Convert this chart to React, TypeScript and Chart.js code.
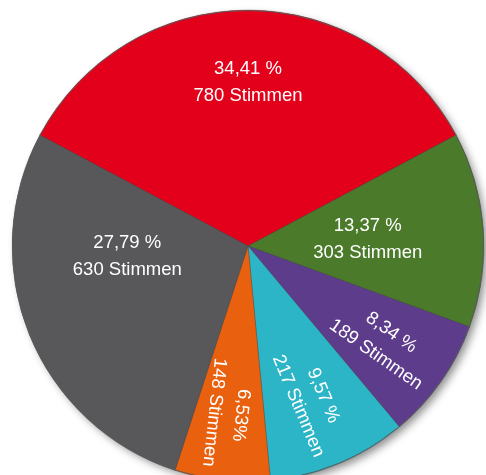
import React, { useEffect, useRef } from "react";
import { Chart, registerables } from "chart.js";

Chart.register(...registerables);

const categories = ["Rot", "Grün", "Lila", "Türkis", "Orange", "Grau"];
const votes = [780, 303, 189, 217, 148, 630];
const percentLabels = ["34,41 %", "13,37 %", "8,34 %", "9,57 %", "6,53%", "27,79 %"];
const voteLabels = ["780 Stimmen", "303 Stimmen", "189 Stimmen", "217 Stimmen", "148 Stimmen", "630 Stimmen"];
const colors = ["#e2001a", "#4a7a2a", "#5e3c8c", "#2bb5c7", "#e9600f", "#58585a"];

// label placement: distance from centre, optional angle override (deg), rotate flag
const labelPlacement = [
  { dist: 166, angle: null as number | null, rotate: false },
  { dist: 120, angle: null as number | null, rotate: false },
  { dist: 167, angle: null as number | null, rotate: true },
  { dist: 167, angle: null as number | null, rotate: true },
  { dist: 169, angle: null as number | null, rotate: true },
  { dist: 121, angle: 176 as number | null, rotate: false },
];

const pieDecor = {
  id: "pieDecor",
  beforeDatasetsDraw(chart: any) {
    const meta = chart.getDatasetMeta(0);
    const arc = meta.data[0];
    if (!arc) return;
    const { x, y, outerRadius } = arc.getProps(["x", "y", "outerRadius"], true);
    const ctx = chart.ctx;
    ctx.save();
    ctx.shadowColor = "rgba(0,0,0,0.45)";
    ctx.shadowBlur = 8;
    ctx.shadowOffsetX = 4;
    ctx.shadowOffsetY = 4;
    ctx.fillStyle = "#777";
    ctx.beginPath();
    ctx.arc(x, y, outerRadius - 1, 0, Math.PI * 2);
    ctx.fill();
    ctx.restore();
  },
  afterDatasetsDraw(chart: any) {
    const meta = chart.getDatasetMeta(0);
    const ctx = chart.ctx;
    const first = meta.data[0];
    if (!first) return;
    const { x: cx, y: cy, outerRadius } = first.getProps(["x", "y", "outerRadius"], true);
    ctx.save();
    ctx.strokeStyle = "rgba(90,90,90,0.9)";
    ctx.lineWidth = 1;
    ctx.beginPath();
    ctx.arc(cx, cy, outerRadius - 0.5, 0, Math.PI * 2);
    ctx.stroke();

    ctx.fillStyle = "#ffffff";
    ctx.font = "18.5px 'Liberation Sans', Arial, sans-serif";
    ctx.textAlign = "center";
    ctx.textBaseline = "middle";
    const lineGap = 27;
    meta.data.forEach((el: any, i: number) => {
      const { startAngle, endAngle } = el.getProps(["startAngle", "endAngle"], true);
      const p = labelPlacement[i];
      const mid = (startAngle + endAngle) / 2;
      const ang = p.angle !== null ? (p.angle * Math.PI) / 180 : mid;
      const bx = cx + Math.cos(ang) * p.dist;
      const by = cy + Math.sin(ang) * p.dist;
      ctx.save();
      ctx.translate(bx, by);
      if (p.rotate) ctx.rotate(mid);
      ctx.fillText(percentLabels[i], 0, -lineGap / 2 + 2);
      ctx.fillText(voteLabels[i], 0, lineGap / 2 + 2);
      ctx.restore();
    });
    ctx.restore();
  },
};

export default function App() {
  const ref = useRef<HTMLCanvasElement | null>(null);
  useEffect(() => {
    if (!ref.current) return;
    const chart = new Chart(ref.current, {
      type: "pie",
      data: {
        labels: categories,
        datasets: [
          {
            data: votes,
            backgroundColor: colors,
            borderColor: "rgba(60,60,60,0.5)",
            borderWidth: 0.6,
          },
        ],
      },
      options: {
        responsive: false,
        animation: false,
        rotation: -61.93,
        radius: 236,
        layout: { padding: { left: 12, right: 2, top: 10, bottom: 10 } },
        plugins: {
          legend: { display: false },
          tooltip: { enabled: false },
        },
      },
      plugins: [pieDecor],
    });
    return () => chart.destroy();
  }, []);
  return (
    <div
      style={{
        position: "fixed",
        left: 0,
        top: 0,
        width: 486,
        height: 475,
        overflow: "hidden",
        background: "#ffffff",
      }}
    >
      <canvas ref={ref} width={486} height={492} style={{ width: 486, height: 492, display: "block" }} />
    </div>
  );
}
